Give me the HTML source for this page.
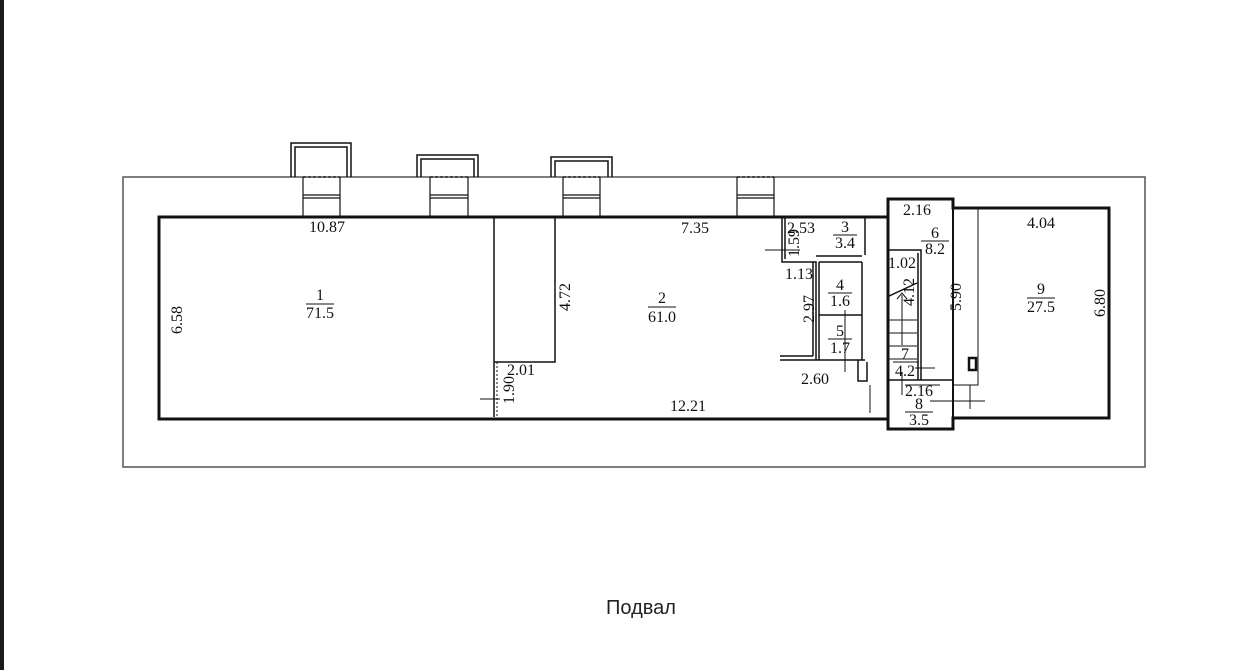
<!DOCTYPE html>
<html><head><meta charset="utf-8"><style>
html,body{margin:0;padding:0;background:#fff;}
svg{display:block}
text{font-family:"Liberation Serif",serif;font-size:16px;fill:#111}
.s{font-family:"Liberation Sans",sans-serif;font-size:20px;fill:#222}
</style></head><body>
<svg width="1249" height="670" viewBox="0 0 1249 670" xmlns="http://www.w3.org/2000/svg">
<rect x="0" y="0" width="4" height="670" fill="#1a1a1a"/>
<g fill="none" stroke="#111">
<path d="M123 177 H1145 V467 H123 Z" stroke-width="1.5" stroke="#555"/>
<path d="M291 177 V143 H351 V177 M295 177 V147 H347 V177" stroke-width="1.5"/>
<path d="M417 177 V155 H478 V177 M421 177 V159 H474 V177" stroke-width="1.5"/>
<path d="M551 177 V157 H612 V177 M555 177 V161 H608 V177" stroke-width="1.5"/>
<g stroke-width="1.2">
<path d="M303 177 V217 M340 177 V217 M303 195 H340 M303 198 H340"/>
<path d="M430 177 V217 M468 177 V217 M430 195 H468 M430 198 H468"/>
<path d="M563 177 V217 M600 177 V217 M563 195 H600 M563 198 H600"/>
<path d="M737 177 V217 M774 177 V217 M737 195 H774 M737 198 H774"/>
<path d="M303 177 H340 M430 177 H468 M563 177 H600 M737 177 H774" stroke-dasharray="3 2"/>
</g>
<path d="M888 217 H159 V419 H888" stroke-width="3"/>
<path d="M888 199 H953 V208 H1109 V418 H953 V429 H888 Z" stroke-width="3"/>
<path d="M953 208 V418" stroke-width="2"/>
<path d="M888 217 V419" stroke-width="1.5"/>
<path d="M494 217 V417 M555 217 V362 H494" stroke-width="1.5"/>
<path d="M497 362 V417" stroke-width="1" stroke-dasharray="2 2"/>
<path d="M480 399 H500" stroke-width="1"/>
<path d="M782 217 V262 H816 V360 M785 217 V259 M816 262 V360 M813 262 V356 M816 256 H862 M819 262 V360 M819 262 H862 M819 315 H862 M862 262 V360 M865 217 V255 M780 360 H865 M780 356 H813" stroke-width="1.5"/>
<path d="M765 250 H800 M845 310 V372" stroke-width="1"/>
<path d="M858 360 V381 H867 V362" stroke-width="1.5"/>
<path d="M870 385 V413" stroke-width="1"/>
<path d="M887 250 H921 V380 M887 380 H953 M918 253 V380 M887 297 L917 283" stroke-width="1.5"/>
<path d="M887 320 H917 M887 333 H917 M887 346 H917 M887 359 H917 M902 295 V345 M897 299 L902 293 L907 299" stroke-width="1"/>
<path d="M902 372 V395 M915 368 H935 M905 385 H940 M930 401 H985" stroke-width="1"/>
<path d="M978 208 V385 H953 M970 385 V409" stroke-width="1"/>
<rect x="969" y="358" width="7" height="12" stroke-width="2.5"/>
</g>
<g text-anchor="middle">
<text x="327" y="232">10.87</text>
<text x="695" y="233">7.35</text>
<text x="320" y="300">1</text>
<path d="M306 304 H334" stroke="#111"/>
<text x="320" y="318">71.5</text>
<text x="662" y="303">2</text>
<path d="M648 307 H676" stroke="#111"/>
<text x="662" y="322">61.0</text>
<text x="688" y="411">12.21</text>
<text x="521" y="375">2.01</text>
<text x="815" y="384">2.60</text>
<text x="801" y="233">2.53</text>
<text x="845" y="232">3</text>
<path d="M833 235 H857" stroke="#111"/>
<text x="845" y="248">3.4</text>
<text x="799" y="279">1.13</text>
<text x="840" y="290">4</text>
<path d="M828 293 H852" stroke="#111"/>
<text x="840" y="306">1.6</text>
<text x="840" y="336">5</text>
<path d="M828 339 H852" stroke="#111"/>
<text x="840" y="353">1.7</text>
<text x="917" y="215">2.16</text>
<text x="935" y="238">6</text>
<path d="M921 241 H949" stroke="#111"/>
<text x="935" y="254">8.2</text>
<text x="902" y="268">1.02</text>
<text x="905" y="359">7</text>
<path d="M893 362 H918" stroke="#111"/>
<text x="905" y="376">4.2</text>
<text x="919" y="396">2.16</text>
<text x="919" y="409">8</text>
<path d="M905 412 H933" stroke="#111"/>
<text x="919" y="425">3.5</text>
<text x="1041" y="228">4.04</text>
<text x="1041" y="294">9</text>
<path d="M1027 298 H1055" stroke="#111"/>
<text x="1041" y="312">27.5</text>
<text transform="translate(182,320) rotate(-90)">6.58</text>
<text transform="translate(570,297) rotate(-90)">4.72</text>
<text transform="translate(514,390) rotate(-90)">1.90</text>
<text transform="translate(799,243) rotate(-90)">1.59</text>
<text transform="translate(814,309) rotate(-90)">2.97</text>
<text transform="translate(914,292) rotate(-90)">4.12</text>
<text transform="translate(961,297) rotate(-90)">5.90</text>
<text transform="translate(1105,303) rotate(-90)">6.80</text>
<text class="s" x="641" y="614">Подвал</text>
</g>
</svg>
</body></html>
